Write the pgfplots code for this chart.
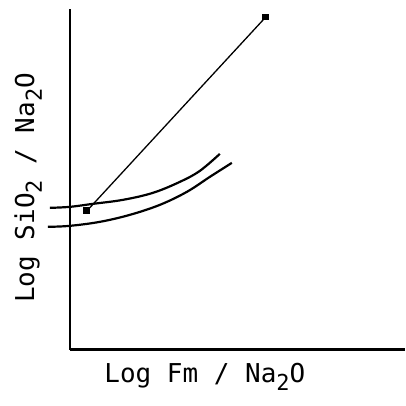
\documentclass[border=0pt]{standalone}
\usepackage{fontspec}
\setmonofont{DejaVu Sans Mono}
\usepackage{pgfplots}
\pgfplotsset{compat=1.18}

% one data unit = one pixel of the 406 px reference, y measured up from the x axis
\newcommand{\sub}[1]{\raisebox{-0.55ex}{\fontsize{11}{12}\selectfont #1}}

\begin{document}
\begin{tikzpicture}
\begin{axis}[
    scale only axis,
    width=167.5pt, height=170.5pt,
    xmin=70, xmax=405, ymin=0, ymax=341,
    axis x line=bottom, axis y line=left,
    axis line style={-, line width=1.3pt},
    xtick=\empty, ytick=\empty,
    clip=false,
    font=\ttfamily\fontsize{13}{15}\selectfont,
    xlabel={Log Fm / Na\sub{2}O},
    ylabel={Log SiO\sub{2} / Na\sub{2}O},
    xlabel style={at={(rel axis cs:0.403,-0.08)}, anchor=center},
    ylabel style={at={(rel axis cs:-0.125,0.475)}, anchor=center},
]
% invisible frame so the page matches the reference proportions
\path (axis cs:0,-56) rectangle (axis cs:406,350);

\addplot[black, line width=0.65pt, mark=square*, mark size=1.4pt]
  coordinates {(87,139) (266,333)};

\addplot[black, line width=1.1pt, smooth, tension=0.6]
  coordinates {(50,142) (70,143) (93,146) (123,150) (153,157) (180,168) (200,179) (220,196)};

\addplot[black, line width=1.1pt, smooth, tension=0.6]
  coordinates {(48,123) (70,124) (100,128) (130,135) (160,145) (187,158) (210,173) (232,187)};
\end{axis}
\end{tikzpicture}
\end{document}
